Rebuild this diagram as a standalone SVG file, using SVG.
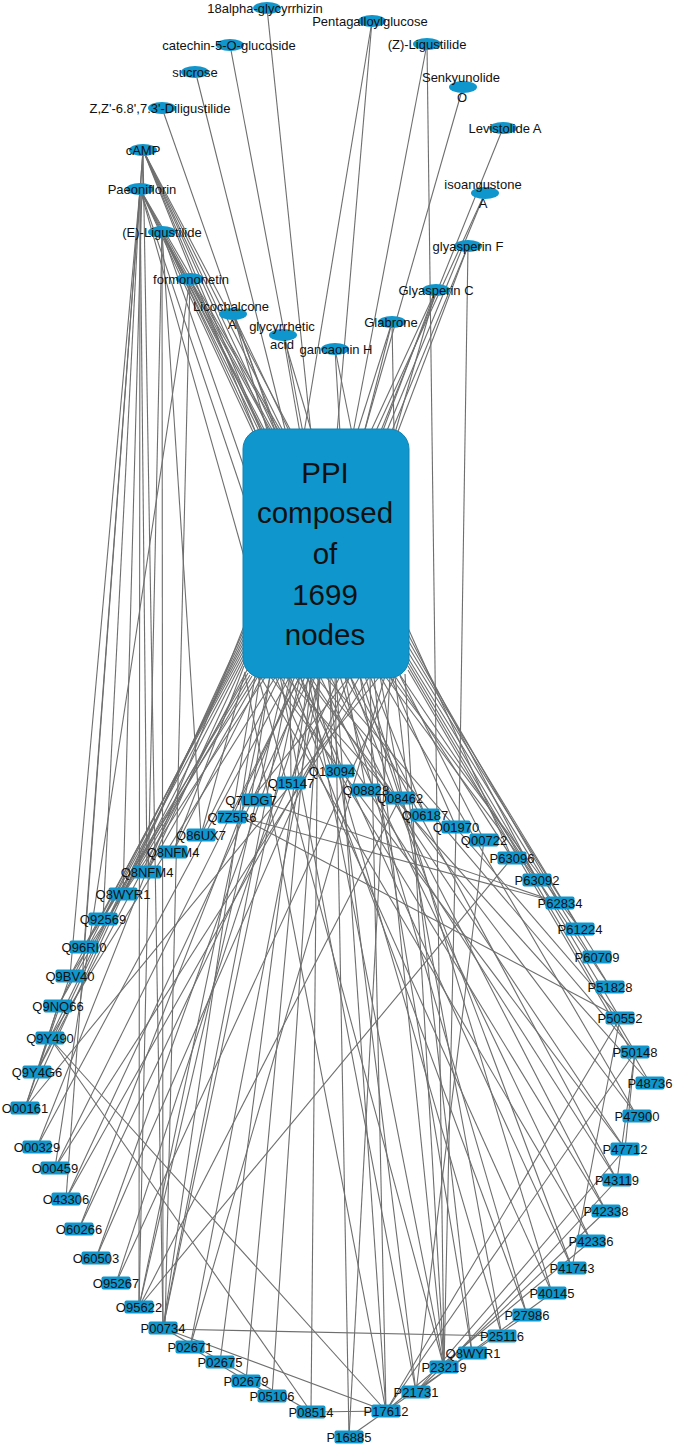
<svg xmlns="http://www.w3.org/2000/svg" width="675" height="1445" viewBox="0 0 675 1445">
<style>
.e{stroke:#6e6e6e;stroke-width:1.1;fill:none}
.el{fill:#0f96cd}
.bx{fill:#0f96cd}
.t{font-family:"Liberation Sans",Arial,sans-serif;font-size:13px;fill:#111;text-anchor:middle}
.big{font-family:"Liberation Sans",Arial,sans-serif;font-size:29.5px;fill:#111;text-anchor:middle}
</style>
<rect width="675" height="1445" fill="#fff"/>
<g id="connectors" class="e">
<!-- top compounds to PPI -->
<line x1="143" y1="150" x2="256" y2="433"/><line x1="143" y1="150" x2="262" y2="433"/><line x1="143" y1="150" x2="270" y2="433"/><line x1="143" y1="150" x2="276" y2="433"/><line x1="143" y1="150" x2="284" y2="433"/><line x1="143" y1="150" x2="292" y2="433"/>
<line x1="140" y1="189" x2="254" y2="434"/><line x1="140" y1="189" x2="260" y2="433"/><line x1="140" y1="189" x2="266" y2="433"/><line x1="140" y1="189" x2="274" y2="433"/><line x1="140" y1="189" x2="282" y2="433"/>
<line x1="140" y1="189" x2="245" y2="500"/><line x1="140" y1="189" x2="245" y2="560"/>
<line x1="162" y1="232" x2="256" y2="433"/><line x1="162" y1="232" x2="264" y2="433"/><line x1="162" y1="232" x2="272" y2="433"/><line x1="162" y1="232" x2="245" y2="470"/>
<line x1="190" y1="279" x2="262" y2="433"/><line x1="190" y1="279" x2="280" y2="433"/>
<line x1="233" y1="314" x2="268" y2="433"/><line x1="233" y1="314" x2="278" y2="433"/><line x1="233" y1="314" x2="290" y2="433"/>
<line x1="283" y1="335" x2="300" y2="433"/><line x1="283" y1="335" x2="312" y2="433"/>
<line x1="335" y1="349" x2="340" y2="433"/><line x1="335" y1="349" x2="352" y2="433"/>
<line x1="162" y1="108" x2="276" y2="433"/>
<line x1="197" y1="78" x2="286" y2="433"/>
<line x1="230" y1="45" x2="303" y2="433"/>
<line x1="267" y1="8" x2="311" y2="433"/>
<line x1="372" y1="21" x2="304" y2="433"/><line x1="372" y1="21" x2="337" y2="433"/>
<line x1="427" y1="44" x2="353" y2="433"/>
<line x1="463" y1="87" x2="364" y2="433"/>
<line x1="503" y1="128" x2="380" y2="433"/>
<line x1="485" y1="193" x2="375" y2="433"/><line x1="485" y1="193" x2="386" y2="433"/>
<line x1="468" y1="246" x2="391" y2="433"/><line x1="468" y1="246" x2="397" y2="434"/>
<line x1="436" y1="290" x2="370" y2="433"/><line x1="436" y1="290" x2="382" y2="433"/><line x1="436" y1="290" x2="395" y2="433"/>
<line x1="392" y1="322" x2="357" y2="433"/><line x1="392" y1="322" x2="364" y2="433"/><line x1="392" y1="322" x2="394" y2="433"/>
<!-- long compound to protein edges -->
<line x1="143" y1="150" x2="163" y2="1328"/><line x1="143" y1="150" x2="66" y2="1199"/><line x1="143" y1="150" x2="84" y2="947"/><line x1="143" y1="150" x2="123" y2="894"/>
<line x1="140" y1="189" x2="139" y2="1307"/><line x1="140" y1="189" x2="103" y2="919"/><line x1="140" y1="189" x2="70" y2="976"/><line x1="140" y1="189" x2="147" y2="872"/>
<line x1="162" y1="232" x2="163" y2="1328"/><line x1="162" y1="232" x2="139" y2="1307"/><line x1="162" y1="232" x2="201" y2="835"/>
<line x1="190" y1="279" x2="165" y2="1328"/><line x1="190" y1="279" x2="55" y2="1168"/>
<line x1="427" y1="44" x2="444" y2="1367"/>
<line x1="468" y1="246" x2="459" y2="827"/>
<!-- PPI to proteins -->
<line x1="330" y1="676" x2="332" y2="771"/><line x1="300" y1="676" x2="332" y2="771"/>
<line x1="290" y1="676" x2="291" y2="783"/><line x1="320" y1="676" x2="291" y2="783"/>
<line x1="270" y1="676" x2="251" y2="800"/><line x1="350" y1="676" x2="251" y2="800"/>
<line x1="255" y1="676" x2="232" y2="817"/><line x1="300" y1="676" x2="232" y2="817"/>
<line x1="245" y1="672" x2="201" y2="835"/><line x1="280" y1="676" x2="201" y2="835"/>
<line x1="244" y1="666" x2="173" y2="852"/><line x1="262" y1="676" x2="173" y2="852"/>
<line x1="244" y1="662" x2="147" y2="872"/><line x1="258" y1="676" x2="147" y2="872"/>
<line x1="244" y1="658" x2="123" y2="894"/><line x1="252" y1="676" x2="123" y2="894"/>
<line x1="244" y1="654" x2="103" y2="919"/><line x1="250" y1="675" x2="103" y2="919"/>
<line x1="244" y1="650" x2="84" y2="947"/><line x1="256" y1="676" x2="84" y2="947"/>
<line x1="244" y1="646" x2="70" y2="976"/><line x1="266" y1="676" x2="70" y2="976"/>
<line x1="244" y1="642" x2="58" y2="1006"/><line x1="248" y1="673" x2="58" y2="1006"/>
<line x1="244" y1="638" x2="50" y2="1038"/><line x1="276" y1="676" x2="50" y2="1038"/>
<line x1="244" y1="634" x2="37" y2="1072"/><line x1="247" y1="670" x2="37" y2="1072"/>
<line x1="244" y1="630" x2="25" y2="1108"/><line x1="380" y1="676" x2="25" y2="1108"/>
<line x1="244" y1="626" x2="37" y2="1147"/><line x1="290" y1="676" x2="37" y2="1147"/>
<line x1="300" y1="676" x2="55" y2="1168"/><line x1="370" y1="676" x2="55" y2="1168"/>
<line x1="310" y1="676" x2="66" y2="1199"/><line x1="360" y1="676" x2="66" y2="1199"/>
<line x1="295" y1="676" x2="79" y2="1229"/><line x1="340" y1="676" x2="79" y2="1229"/>
<line x1="305" y1="676" x2="96" y2="1258"/><line x1="350" y1="676" x2="96" y2="1258"/>
<line x1="315" y1="676" x2="116" y2="1283"/><line x1="395" y1="676" x2="116" y2="1283"/>
<line x1="270" y1="676" x2="139" y2="1307"/><line x1="285" y1="676" x2="139" y2="1307"/>
<line x1="260" y1="676" x2="163" y2="1328"/><line x1="290" y1="676" x2="163" y2="1328"/><line x1="300" y1="676" x2="163" y2="1328"/>
<line x1="320" y1="676" x2="190" y2="1347"/><line x1="385" y1="676" x2="190" y2="1347"/>
<line x1="308" y1="676" x2="220" y2="1362"/>
<line x1="311" y1="676" x2="246" y2="1381"/>
<line x1="320" y1="676" x2="272" y2="1396"/>
<line x1="318" y1="676" x2="311" y2="1412"/>
<line x1="335" y1="676" x2="349" y2="1437"/><line x1="390" y1="676" x2="349" y2="1437"/>
<line x1="336" y1="676" x2="386" y2="1411"/><line x1="245" y1="674" x2="386" y2="1411"/><line x1="370" y1="676" x2="386" y2="1411"/>
<line x1="328" y1="676" x2="416" y2="1392"/><line x1="280" y1="676" x2="416" y2="1392"/>
<line x1="258" y1="676" x2="444" y2="1367"/><line x1="308" y1="676" x2="444" y2="1367"/><line x1="374" y1="676" x2="444" y2="1367"/><line x1="405" y1="674" x2="444" y2="1367"/>
<line x1="395" y1="676" x2="472" y2="1353"/><line x1="360" y1="676" x2="472" y2="1353"/>
<line x1="310" y1="676" x2="502" y2="1336"/><line x1="380" y1="676" x2="502" y2="1336"/>
<line x1="290" y1="676" x2="527" y2="1315"/><line x1="340" y1="676" x2="527" y2="1315"/>
<line x1="275" y1="676" x2="552" y2="1293"/><line x1="365" y1="676" x2="552" y2="1293"/>
<line x1="300" y1="676" x2="572" y2="1268"/><line x1="350" y1="676" x2="572" y2="1268"/>
<line x1="260" y1="676" x2="591" y2="1241"/><line x1="320" y1="676" x2="591" y2="1241"/>
<line x1="280" y1="676" x2="606" y2="1211"/><line x1="330" y1="676" x2="606" y2="1211"/>
<line x1="295" y1="676" x2="617" y2="1180"/><line x1="345" y1="676" x2="617" y2="1180"/>
<line x1="270" y1="676" x2="625" y2="1149"/><line x1="310" y1="676" x2="625" y2="1149"/>
<line x1="305" y1="676" x2="637" y2="1116"/><line x1="380" y1="676" x2="637" y2="1116"/>
<line x1="408" y1="670" x2="650" y2="1083"/><line x1="285" y1="676" x2="650" y2="1083"/>
<line x1="408" y1="666" x2="635" y2="1052"/><line x1="315" y1="676" x2="635" y2="1052"/>
<line x1="408" y1="662" x2="620" y2="1018"/><line x1="325" y1="676" x2="620" y2="1018"/>
<line x1="408" y1="658" x2="610" y2="987"/><line x1="400" y1="675" x2="610" y2="987"/>
<line x1="408" y1="652" x2="597" y2="957"/>
<line x1="408" y1="646" x2="580" y2="929"/><line x1="390" y1="676" x2="580" y2="929"/>
<line x1="408" y1="640" x2="560" y2="903"/>
<line x1="408" y1="634" x2="537" y2="880"/><line x1="385" y1="676" x2="537" y2="880"/>
<line x1="408" y1="628" x2="512" y2="858"/><line x1="395" y1="676" x2="512" y2="858"/>
<line x1="400" y1="676" x2="484" y2="840"/>
<line x1="390" y1="676" x2="456" y2="827"/>
<line x1="370" y1="676" x2="425" y2="815"/><line x1="350" y1="676" x2="425" y2="815"/>
<line x1="360" y1="676" x2="400" y2="798"/>
<line x1="345" y1="676" x2="366" y2="790"/>
<!-- protein to protein -->
<line x1="163" y1="1329" x2="502" y2="1336"/>
<line x1="163" y1="1328" x2="386" y2="1411"/>
<line x1="163" y1="1328" x2="311" y2="1412"/>
<line x1="190" y1="1347" x2="272" y2="1396"/>
<line x1="311" y1="1412" x2="386" y2="1411"/>
<line x1="349" y1="1437" x2="386" y2="1411"/>
<line x1="257" y1="800" x2="560" y2="903"/>
<line x1="240" y1="817" x2="560" y2="903"/>
<line x1="240" y1="817" x2="620" y2="1018"/>
<line x1="400" y1="798" x2="139" y2="1307"/>
<line x1="512" y1="858" x2="139" y2="1307"/>
<line x1="50" y1="1038" x2="311" y2="1412"/>
<line x1="50" y1="1038" x2="386" y2="1411"/>
<line x1="386" y1="1411" x2="635" y2="1052"/>
<line x1="386" y1="1411" x2="620" y2="1018"/>
<line x1="416" y1="1392" x2="625" y2="1149"/>
<line x1="416" y1="1392" x2="606" y2="1211"/>
<line x1="444" y1="1367" x2="617" y2="1180"/>
<line x1="386" y1="1411" x2="591" y2="1241"/>
<line x1="635" y1="1052" x2="625" y2="1149"/>
<line x1="635" y1="1052" x2="617" y2="1180"/>
<line x1="620" y1="1018" x2="572" y2="1268"/>
<line x1="456" y1="827" x2="444" y2="1367"/>
<line x1="484" y1="840" x2="416" y2="1392"/>
<line x1="386" y1="1411" x2="527" y2="1315"/>
<line x1="416" y1="1392" x2="552" y2="1293"/>
<line x1="58" y1="1006" x2="25" y2="1108"/>
<line x1="70" y1="976" x2="25" y2="1108"/>
<line x1="37" y1="1072" x2="58" y2="1006"/>
</g>
<g id="ppi">
<rect x="243" y="429" width="166" height="249" rx="20" fill="#0f96cd" stroke="#1283b3" stroke-width="1"/>
<text class="big" x="325" y="483">PPI</text>
<text class="big" x="325" y="523">composed</text>
<text class="big" x="325" y="564">of</text>
<text class="big" x="325" y="605">1699</text>
<text class="big" x="325" y="645">nodes</text>
</g>
<g id="compounds">
<g id="c-18alpha"><ellipse class="el" cx="267" cy="8" rx="14" ry="6"/><text class="t" x="265" y="12.5">18alpha-glycyrrhizin</text></g>
<g id="c-pentagalloyl"><ellipse class="el" cx="372" cy="21" rx="14" ry="6"/><text class="t" x="370" y="25.5">Pentagalloylglucose</text></g>
<g id="c-catechin"><ellipse class="el" cx="230" cy="45" rx="14" ry="6"/><text class="t" x="229" y="49.5">catechin-5-O-glucoside</text></g>
<g id="c-zlig"><ellipse class="el" cx="427" cy="44" rx="14" ry="6"/><text class="t" x="427" y="48.5">(Z)-Ligustilide</text></g>
<g id="c-sucrose"><ellipse class="el" cx="195" cy="72" rx="14" ry="6"/><text class="t" x="195" y="76.5">sucrose</text></g>
<g id="c-senky"><ellipse class="el" cx="463" cy="87" rx="14" ry="6"/><text class="t" x="461" y="81.5">Senkyunolide</text><text class="t" x="462" y="101.5">O</text></g>
<g id="c-dilig"><ellipse class="el" cx="162" cy="108" rx="14" ry="6"/><text class="t" x="160" y="112.5">Z,Z'-6.8',7.3'-Diligustilide</text></g>
<g id="c-levist"><ellipse class="el" cx="503" cy="128" rx="14" ry="6"/><text class="t" x="505" y="132.5">Levistolide A</text></g>
<g id="c-camp"><ellipse class="el" cx="143" cy="150" rx="14" ry="6"/><text class="t" x="143" y="154.5">cAMP</text></g>
<g id="c-paeon"><ellipse class="el" cx="140" cy="189" rx="14" ry="6"/><text class="t" x="142" y="193.5">Paeoniflorin</text></g>
<g id="c-isoang"><ellipse class="el" cx="485" cy="193" rx="14" ry="6"/><text class="t" x="483" y="188.5">isoangustone</text><text class="t" x="483" y="207.5">A</text></g>
<g id="c-elig"><ellipse class="el" cx="162" cy="232" rx="14" ry="6"/><text class="t" x="162" y="236.5">(E)-Ligustilide</text></g>
<g id="c-glyf"><ellipse class="el" cx="468" cy="246" rx="14" ry="6"/><text class="t" x="468" y="250.5">glyasperin F</text></g>
<g id="c-formo"><ellipse class="el" cx="190" cy="279" rx="14" ry="6"/><text class="t" x="191" y="283.5">formononetin</text></g>
<g id="c-glyc"><ellipse class="el" cx="436" cy="290" rx="14" ry="6"/><text class="t" x="436" y="294.5">Glyasperin C</text></g>
<g id="c-licoch"><ellipse class="el" cx="233" cy="314" rx="14" ry="6"/><text class="t" x="231" y="310.5">Licochalcone</text><text class="t" x="232" y="328.5">A</text></g>
<g id="c-glabrone"><ellipse class="el" cx="392" cy="322" rx="14" ry="6"/><text class="t" x="391" y="326.5">Glabrone</text></g>
<g id="c-glycyr"><ellipse class="el" cx="283" cy="335" rx="14" ry="6"/><text class="t" x="282" y="330.5">glycyrrhetic</text><text class="t" x="282" y="348.5">acid</text></g>
<g id="c-ganca"><ellipse class="el" cx="335" cy="349" rx="14" ry="6"/><text class="t" x="336" y="353.5">gancaonin H</text></g>
</g>
<g id="proteins">
<g id="p-Q13094"><rect class="bx" x="325.5" y="764.5" width="29" height="13" rx="2"/><text class="t" x="332" y="775.5">Q13094</text></g>
<g id="p-Q15147"><rect class="bx" x="277" y="776.5" width="29" height="13" rx="2"/><text class="t" x="291" y="787.5">Q15147</text></g>
<g id="p-Q7LDG7"><rect class="bx" x="242" y="793.5" width="30" height="13" rx="2"/><text class="t" x="251" y="804.5">Q7LDG7</text></g>
<g id="p-Q7Z5R6"><rect class="bx" x="217.5" y="810.5" width="29" height="13" rx="2"/><text class="t" x="232" y="821.5">Q7Z5R6</text></g>
<g id="p-Q86UX7"><rect class="bx" x="186.5" y="828.5" width="29" height="13" rx="2"/><text class="t" x="201" y="839.5">Q86UX7</text></g>
<g id="p-Q8NFM4a"><rect class="bx" x="158.5" y="845.5" width="29" height="13" rx="2"/><text class="t" x="173" y="856.5">Q8NFM4</text></g>
<g id="p-Q8NFM4b"><rect class="bx" x="132.5" y="865.5" width="29" height="13" rx="2"/><text class="t" x="147" y="876.5">Q8NFM4</text></g>
<g id="p-Q8WYR1a"><rect class="bx" x="108.5" y="887.5" width="29" height="13" rx="2"/><text class="t" x="123" y="898.5">Q8WYR1</text></g>
<g id="p-Q92569"><rect class="bx" x="88.5" y="912.5" width="29" height="13" rx="2"/><text class="t" x="103" y="923.5">Q92569</text></g>
<g id="p-Q96RI0"><rect class="bx" x="69.5" y="940.5" width="29" height="13" rx="2"/><text class="t" x="84" y="951.5">Q96RI0</text></g>
<g id="p-Q9BV40"><rect class="bx" x="55.5" y="969.5" width="29" height="13" rx="2"/><text class="t" x="70" y="980.5">Q9BV40</text></g>
<g id="p-Q9NQ66"><rect class="bx" x="43.5" y="999.5" width="29" height="13" rx="2"/><text class="t" x="58" y="1010.5">Q9NQ66</text></g>
<g id="p-Q9Y490"><rect class="bx" x="35.5" y="1031.5" width="29" height="13" rx="2"/><text class="t" x="50" y="1042.5">Q9Y490</text></g>
<g id="p-Q9Y4G6"><rect class="bx" x="22.5" y="1065.5" width="29" height="13" rx="2"/><text class="t" x="37" y="1076.5">Q9Y4G6</text></g>
<g id="p-O00161"><rect class="bx" x="10.5" y="1101.5" width="29" height="13" rx="2"/><text class="t" x="25" y="1112.5">O00161</text></g>
<g id="p-O00329"><rect class="bx" x="22.5" y="1140.5" width="29" height="13" rx="2"/><text class="t" x="37" y="1151.5">O00329</text></g>
<g id="p-O00459"><rect class="bx" x="40.5" y="1161.5" width="29" height="13" rx="2"/><text class="t" x="55" y="1172.5">O00459</text></g>
<g id="p-O43306"><rect class="bx" x="51.5" y="1192.5" width="29" height="13" rx="2"/><text class="t" x="66" y="1203.5">O43306</text></g>
<g id="p-O60266"><rect class="bx" x="64.5" y="1222.5" width="29" height="13" rx="2"/><text class="t" x="79" y="1233.5">O60266</text></g>
<g id="p-O60503"><rect class="bx" x="81.5" y="1251.5" width="29" height="13" rx="2"/><text class="t" x="96" y="1262.5">O60503</text></g>
<g id="p-O95267"><rect class="bx" x="101.5" y="1276.5" width="29" height="13" rx="2"/><text class="t" x="116" y="1287.5">O95267</text></g>
<g id="p-O95622"><rect class="bx" x="124.5" y="1300.5" width="29" height="13" rx="2"/><text class="t" x="139" y="1311.5">O95622</text></g>
<g id="p-P00734"><rect class="bx" x="148.5" y="1321.5" width="29" height="13" rx="2"/><text class="t" x="163" y="1332.5">P00734</text></g>
<g id="p-P02671"><rect class="bx" x="175.5" y="1340.5" width="29" height="13" rx="2"/><text class="t" x="190" y="1351.5">P02671</text></g>
<g id="p-P02675"><rect class="bx" x="205.5" y="1355.5" width="29" height="13" rx="2"/><text class="t" x="220" y="1366.5">P02675</text></g>
<g id="p-P02679"><rect class="bx" x="231.5" y="1374.5" width="29" height="13" rx="2"/><text class="t" x="246" y="1385.5">P02679</text></g>
<g id="p-P05106"><rect class="bx" x="257.5" y="1389.5" width="29" height="13" rx="2"/><text class="t" x="272" y="1400.5">P05106</text></g>
<g id="p-P08514"><rect class="bx" x="296.5" y="1405.5" width="29" height="13" rx="2"/><text class="t" x="311" y="1416.5">P08514</text></g>
<g id="p-P16885"><rect class="bx" x="334.5" y="1430.5" width="29" height="13" rx="2"/><text class="t" x="349" y="1441.5">P16885</text></g>
<g id="p-P17612"><rect class="bx" x="371.5" y="1404.5" width="29" height="13" rx="2"/><text class="t" x="386" y="1415.5">P17612</text></g>
<g id="p-P21731"><rect class="bx" x="401.5" y="1385.5" width="29" height="13" rx="2"/><text class="t" x="416" y="1396.5">P21731</text></g>
<g id="p-P23219"><rect class="bx" x="429.5" y="1360.5" width="29" height="13" rx="2"/><text class="t" x="444" y="1371.5">P23219</text></g>
<g id="p-Q8WYR1b"><rect class="bx" x="458" y="1346.5" width="29" height="13" rx="2"/><text class="t" x="473" y="1357.5">Q8WYR1</text></g>
<g id="p-P25116"><rect class="bx" x="487.5" y="1329.5" width="29" height="13" rx="2"/><text class="t" x="502" y="1340.5">P25116</text></g>
<g id="p-P27986"><rect class="bx" x="512.5" y="1308.5" width="29" height="13" rx="2"/><text class="t" x="527" y="1319.5">P27986</text></g>
<g id="p-P40145"><rect class="bx" x="537.5" y="1286.5" width="29" height="13" rx="2"/><text class="t" x="552" y="1297.5">P40145</text></g>
<g id="p-P41743"><rect class="bx" x="557.5" y="1261.5" width="29" height="13" rx="2"/><text class="t" x="572" y="1272.5">P41743</text></g>
<g id="p-P42336"><rect class="bx" x="576.5" y="1234.5" width="29" height="13" rx="2"/><text class="t" x="591" y="1245.5">P42336</text></g>
<g id="p-P42338"><rect class="bx" x="591.5" y="1204.5" width="29" height="13" rx="2"/><text class="t" x="606" y="1215.5">P42338</text></g>
<g id="p-P43119"><rect class="bx" x="602.5" y="1173.5" width="29" height="13" rx="2"/><text class="t" x="617" y="1184.5">P43119</text></g>
<g id="p-P47712"><rect class="bx" x="610.5" y="1142.5" width="29" height="13" rx="2"/><text class="t" x="625" y="1153.5">P47712</text></g>
<g id="p-P47900"><rect class="bx" x="622.5" y="1109.5" width="29" height="13" rx="2"/><text class="t" x="637" y="1120.5">P47900</text></g>
<g id="p-P48736"><rect class="bx" x="635.5" y="1076.5" width="29" height="13" rx="2"/><text class="t" x="650" y="1087.5">P48736</text></g>
<g id="p-P50148"><rect class="bx" x="620.5" y="1045.5" width="29" height="13" rx="2"/><text class="t" x="635" y="1056.5">P50148</text></g>
<g id="p-P50552"><rect class="bx" x="605.5" y="1011.5" width="29" height="13" rx="2"/><text class="t" x="620" y="1022.5">P50552</text></g>
<g id="p-P51828"><rect class="bx" x="595.5" y="980.5" width="29" height="13" rx="2"/><text class="t" x="610" y="991.5">P51828</text></g>
<g id="p-P60709"><rect class="bx" x="582.5" y="950.5" width="29" height="13" rx="2"/><text class="t" x="597" y="961.5">P60709</text></g>
<g id="p-P61224"><rect class="bx" x="565.5" y="922.5" width="29" height="13" rx="2"/><text class="t" x="580" y="933.5">P61224</text></g>
<g id="p-P62834"><rect class="bx" x="545.5" y="896.5" width="29" height="13" rx="2"/><text class="t" x="560" y="907.5">P62834</text></g>
<g id="p-P63092"><rect class="bx" x="522.5" y="873.5" width="29" height="13" rx="2"/><text class="t" x="537" y="884.5">P63092</text></g>
<g id="p-P63096"><rect class="bx" x="497.5" y="851.5" width="29" height="13" rx="2"/><text class="t" x="512" y="862.5">P63096</text></g>
<g id="p-Q00722"><rect class="bx" x="469.5" y="833.5" width="29" height="13" rx="2"/><text class="t" x="484" y="844.5">Q00722</text></g>
<g id="p-Q01970"><rect class="bx" x="441.5" y="820.5" width="29" height="13" rx="2"/><text class="t" x="456" y="831.5">Q01970</text></g>
<g id="p-Q06187"><rect class="bx" x="410.5" y="808.5" width="29" height="13" rx="2"/><text class="t" x="425" y="819.5">Q06187</text></g>
<g id="p-Q08462"><rect class="bx" x="385.5" y="791.5" width="29" height="13" rx="2"/><text class="t" x="400" y="802.5">Q08462</text></g>
<g id="p-Q08828"><rect class="bx" x="351.5" y="783.5" width="29" height="13" rx="2"/><text class="t" x="366" y="794.5">Q08828</text></g>
</g>
</svg>
